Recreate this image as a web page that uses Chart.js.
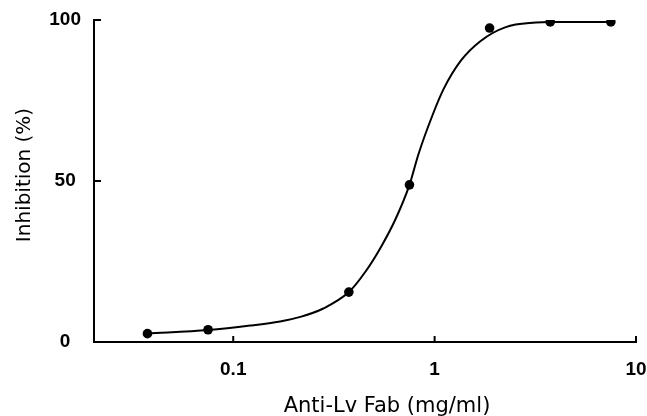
<!DOCTYPE html>
<html>
<head>
<meta charset="utf-8">
<script src="https://cdn.jsdelivr.net/npm/chart.js@4.4.1/dist/chart.umd.min.js"></script>
<style>
  html, body { margin: 0; padding: 0; background: #fff; }
  #wrap { width: 647px; height: 416px; position: relative; }
</style>
</head>
<body>
<div id="wrap"><canvas id="c" width="647" height="416"></canvas></div>
<script>
// Measured points: Fab concentration (mg/ml) and inhibition (%)
const concentrations = [0.0375, 0.075, 0.375, 0.75, 1.875, 3.75, 7.5];
const inhibition = [2.6, 3.8, 15.5, 48.8, 97.5, 99.4, 99.4];

// Fitted curve
const curveX = [0.0375, 0.075, 0.1215, 0.171, 0.2155, 0.28, 0.375, 0.454, 0.539, 0.64, 0.75, 0.832, 0.977, 1.109, 1.347, 1.693, 2.256, 3.18, 3.75, 7.5];
const curveY = [2.6, 3.7, 5.1, 6.4, 7.8, 10.4, 15.5, 21.9, 29.3, 38.2, 48.8, 58.4, 70.5, 78.6, 87.3, 93.5, 97.8, 99.2, 99.4, 99.4];

// Axis ticks
const xTicks = [0.1, 1, 10];
const xTickLabels = ['0.1', '1', '10'];
const yTicks = [0, 50, 100];
const yTickLabels = ['0', '50', '100'];

const xTitle = 'Anti-Lv Fab (mg/ml)';
const yTitle = 'Inhibition (%)';

const pointData = concentrations.map((x, i) => ({ x: x, y: inhibition[i] }));
const curveData = curveX.map((x, i) => ({ x: x, y: curveY[i] }));

const X_TITLE_FONT = '21px "DejaVu Sans", sans-serif';
const Y_TITLE_FONT = '20px "DejaVu Sans", sans-serif';
const TICK_FONT = { family: '"Liberation Sans", Arial, sans-serif', size: 19, weight: 'bold' };

const innerTicks = {
  id: 'innerTicks',
  afterDraw(chart) {
    const ctx = chart.ctx;
    const xs = chart.scales.x, ys = chart.scales.y;
    const area = chart.chartArea;
    ctx.save();
    ctx.strokeStyle = '#000';
    ctx.lineWidth = 2;
    ctx.beginPath();
    xTicks.forEach(v => {
      const px = xs.getPixelForValue(v);
      ctx.moveTo(px, area.bottom);
      ctx.lineTo(px, area.bottom - 6);
    });
    yTicks.forEach(v => {
      if (v === 0) return;
      const py = ys.getPixelForValue(v);
      ctx.moveTo(area.left, py);
      ctx.lineTo(area.left + 7, py);
    });
    ctx.stroke();

    // axis titles
    ctx.fillStyle = '#000';
    ctx.textAlign = 'center';
    ctx.textBaseline = 'middle';
    ctx.font = X_TITLE_FONT;
    ctx.fillText(xTitle, (area.left + area.right) / 2 + 22, area.bottom + 65);
    ctx.font = Y_TITLE_FONT;
    ctx.translate(25, (area.top + area.bottom) / 2 - 6);
    ctx.rotate(-Math.PI / 2);
    ctx.fillText(yTitle, 0, 0);
    ctx.restore();
  }
};

function zeroPad(scale) {
  scale.paddingLeft = 0; scale.paddingRight = 0;
  scale.paddingTop = 0; scale.paddingBottom = 0;
}

new Chart(document.getElementById('c'), {
  type: 'scatter',
  data: {
    datasets: [
      {
        label: 'points',
        data: pointData,
        showLine: false,
        pointRadius: 4.8,
        pointBackgroundColor: '#000',
        pointBorderColor: '#000',
        pointBorderWidth: 0,
        order: 0
      },
      {
        label: 'fit',
        data: curveData,
        showLine: true,
        borderColor: '#000',
        borderWidth: 2,
        pointRadius: 0,
        cubicInterpolationMode: 'monotone',
        fill: false,
        order: 1
      }
    ]
  },
  options: {
    responsive: false,
    animation: false,
    devicePixelRatio: 1,
    layout: { padding: { left: 0, right: 11, top: 20, bottom: 0 } },
    plugins: { legend: { display: false }, tooltip: { enabled: false } },
    scales: {
      x: {
        type: 'logarithmic',
        min: 0.02035,
        max: 10,
        grid: { display: false, drawTicks: false },
        border: { display: true, color: '#000', width: 2 },
        afterBuildTicks(scale) { scale.ticks = xTicks.map(v => ({ value: v })); },
        afterFit(scale) { scale.height = 74; zeroPad(scale); },
        ticks: {
          color: '#000',
          padding: 16,
          maxRotation: 0,
          autoSkip: false,
          font: TICK_FONT,
          callback(value) { const i = xTicks.indexOf(value); return i >= 0 ? xTickLabels[i] : ''; }
        }
      },
      y: {
        type: 'linear',
        min: 0,
        max: 100,
        grid: { display: false, drawTicks: false },
        border: { display: true, color: '#000', width: 2 },
        afterBuildTicks(scale) { scale.ticks = yTicks.map(v => ({ value: v })); },
        afterFit(scale) { scale.width = 94; zeroPad(scale); },
        ticks: {
          color: '#000',
          padding: 13,
          crossAlign: 'center',
          font: TICK_FONT,
          callback(value) { const i = yTicks.indexOf(value); return i >= 0 ? yTickLabels[i] : ''; }
        }
      }
    }
  },
  plugins: [innerTicks]
});
</script>
</body>
</html>
